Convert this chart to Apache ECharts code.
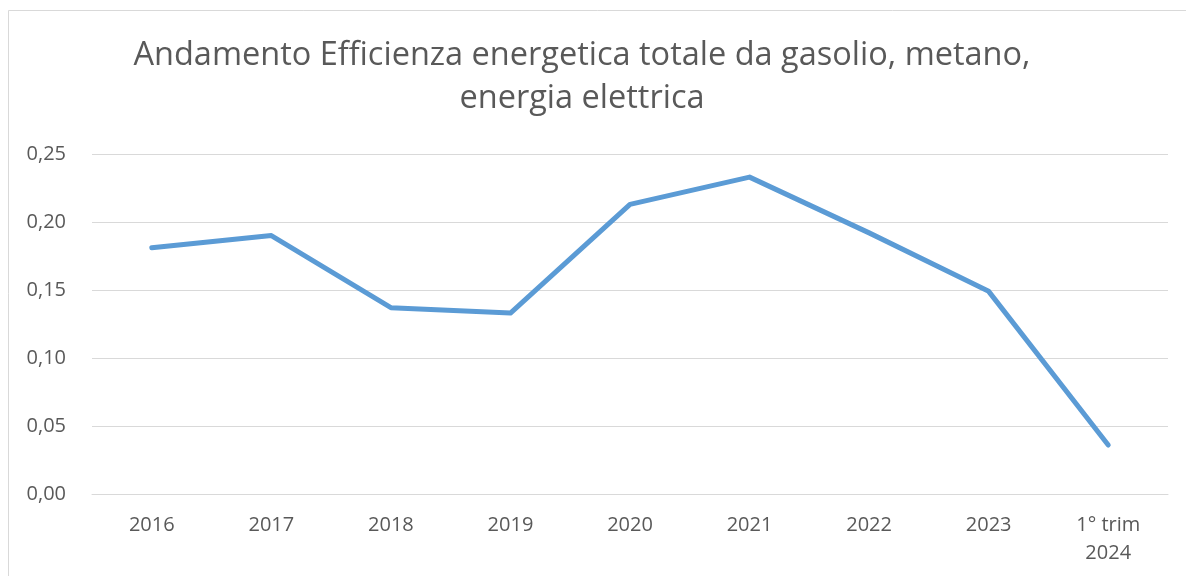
<!DOCTYPE html>
<html>
<head>
<meta charset="utf-8">
<script src="https://cdn.jsdelivr.net/npm/echarts@6/dist/echarts.min.js"></script>
<style>
html,body{margin:0;padding:0;background:#fff;}
#chart{width:1186px;height:576px;}
</style>
</head>
<body>
<div id="chart"></div>
<script>
const titleText = 'Andamento Efficienza energetica totale da gasolio, metano,\nenergia elettrica';
const categories = ['2016','2017','2018','2019','2020','2021','2022','2023','1° trim\n2024'];
const values = [0.181, 0.190, 0.137, 0.133, 0.213, 0.233, 0.192, 0.149, 0.036];
const yTicks = {min: 0, max: 0.25, interval: 0.05};

const FONT = '"Open Sans", Lato, sans-serif';
const chart = echarts.init(document.getElementById('chart'));
chart.setOption({
  animation: false,
  backgroundColor: '#ffffff',
  textStyle: {fontFamily: FONT},
  graphic: [{
    type: 'rect',
    shape: {x: 8.5, y: 10.5, width: 1200, height: 600},
    style: {fill: 'none', stroke: '#d9d9d9', lineWidth: 1},
    silent: true
  }],
  title: {
    text: titleText,
    left: 577,
    textAlign: 'center',
    top: 29,
    textStyle: {color: '#595959', fontSize: 32.5, fontWeight: 'normal', lineHeight: 43, fontFamily: FONT}
  },
  grid: {left: 92, right: 18, top: 154, bottom: 82, containLabel: false},
  xAxis: {
    type: 'category',
    data: categories,
    boundaryGap: true,
    axisLine: {show: true, lineStyle: {color: '#d9d9d9', width: 1}},
    axisTick: {show: false},
    axisLabel: {color: '#595959', fontSize: 20, margin: 17, lineHeight: 28, interval: 0, fontFamily: FONT}
  },
  yAxis: {
    type: 'value',
    min: yTicks.min, max: yTicks.max, interval: yTicks.interval,
    axisLine: {show: false},
    axisTick: {show: false},
    splitLine: {lineStyle: {color: '#d9d9d9', width: 1}},
    axisLabel: {color: '#595959', fontSize: 20, margin: 26, fontFamily: FONT,
      formatter: v => v.toFixed(2).replace('.', ',')}
  },
  series: [{
    type: 'line',
    data: values,
    symbol: 'none',
    lineStyle: {color: '#5b9bd5', width: 5, cap: 'round', join: 'round'},
    itemStyle: {color: '#5b9bd5'}
  }]
});
</script>
</body>
</html>
